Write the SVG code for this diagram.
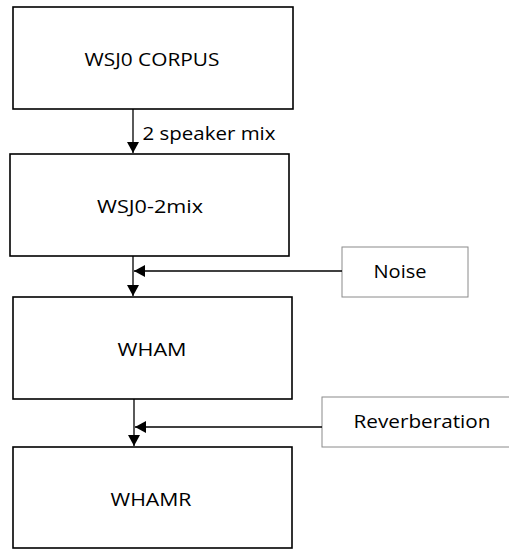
<svg xmlns="http://www.w3.org/2000/svg" width="509" height="549" viewBox="0 0 509 549">
<defs>
<marker id="ah" viewBox="0 0 11 12" refX="11" refY="6" markerWidth="11" markerHeight="12" markerUnits="userSpaceOnUse" orient="auto">
<path d="M0,0 L11,6 L0,12 Z" fill="#000"/>
</marker>
</defs>
<style>
.box{fill:#fff;stroke:#000;stroke-width:1.6}
.side{fill:#fff;stroke:#8a8a8a;stroke-width:1}
.t{font-family:"Open Sans","Liberation Sans",sans-serif;font-size:18.5px;fill:#000;text-anchor:middle}
.c{stroke:#000;stroke-width:1.3;fill:none}
</style>
<rect width="509" height="549" fill="#fff"/>
<g id="wsj0">
<rect class="box" x="13" y="7" width="280" height="102"/>
<text class="t" x="152" y="66" textLength="135" lengthAdjust="spacingAndGlyphs">WSJ0 CORPUS</text>
</g>
<g id="wsj0-2mix">
<rect class="box" x="10" y="154" width="279" height="102"/>
<text class="t" x="150" y="213" textLength="106" lengthAdjust="spacingAndGlyphs">WSJ0-2mix</text>
</g>
<g id="noise">
<rect class="side" x="342" y="247" width="126" height="50"/>
<text class="t" x="400" y="278" textLength="53" lengthAdjust="spacingAndGlyphs">Noise</text>
</g>
<g id="wham">
<rect class="box" x="13" y="297" width="279" height="102"/>
<text class="t" x="152" y="356" textLength="69" lengthAdjust="spacingAndGlyphs">WHAM</text>
</g>
<g id="reverb">
<rect class="side" x="322" y="397" width="192" height="50"/>
<text class="t" x="422" y="428" textLength="137" lengthAdjust="spacingAndGlyphs">Reverberation</text>
</g>
<g id="whamr">
<rect class="box" x="13" y="447" width="279" height="101"/>
<text class="t" x="151" y="506" textLength="81" lengthAdjust="spacingAndGlyphs">WHAMR</text>
</g>
<g id="connectors">
<line class="c" x1="133" y1="109" x2="133" y2="153" marker-end="url(#ah)"/>
<text class="t" x="209" y="140" textLength="133" lengthAdjust="spacingAndGlyphs">2 speaker mix</text>
<line class="c" x1="133" y1="256" x2="133" y2="296" marker-end="url(#ah)"/>
<line class="c" x1="342" y1="271" x2="134" y2="271" marker-end="url(#ah)"/>
<line class="c" x1="134" y1="399" x2="134" y2="446" marker-end="url(#ah)"/>
<line class="c" x1="322" y1="427" x2="135" y2="427" marker-end="url(#ah)"/>
</g>
</svg>
